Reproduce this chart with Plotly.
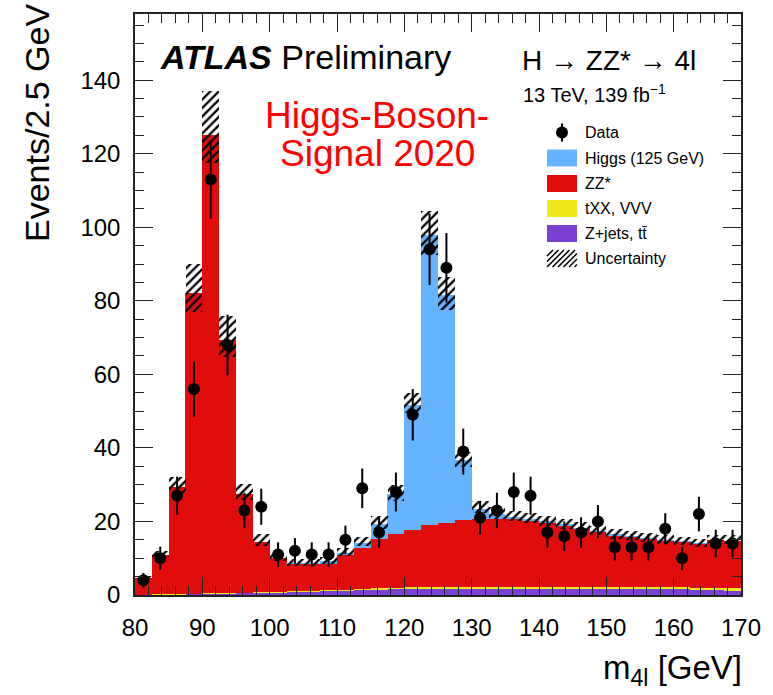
import numpy as np
import plotly.graph_objects as go

# ---------------- data ----------------
bin_centers = [81.25, 83.75, 86.25, 88.75, 91.25, 93.75, 96.25, 98.75, 101.25, 103.75,
               106.25, 108.75, 111.25, 113.75, 116.25, 118.75, 121.25, 123.75, 126.25, 128.75,
               131.25, 133.75, 136.25, 138.75, 141.25, 143.75, 146.25, 148.75, 151.25, 153.75,
               156.25, 158.75, 161.25, 163.75, 166.25, 168.75]

data_counts = [4, 10, 27, 56, 113, 68, 23, 24, 11, 12,
               11, 11, 15, 29, 17, 28, 49, 94, 89, 39,
               21, 23, 28, 27, 17, 16, 17, 20, 13, 13,
               13, 18, 10, 22, 14, 14]

zjets_tt = [0.1, 0.15, 0.2, 0.3, 0.4, 0.5, 0.6, 0.7, 0.8, 0.9,
            1.0, 1.1, 1.2, 1.4, 1.6, 1.7, 1.8, 1.8, 1.8, 1.8,
            1.8, 1.8, 1.8, 1.8, 1.7, 1.7, 1.7, 1.6, 1.6, 1.6,
            1.5, 1.5, 1.5, 1.4, 1.3, 1.2]

txx_vvv = [0.02, 0.03, 0.04, 0.05, 0.06, 0.07, 0.08, 0.09, 0.1, 0.12,
           0.14, 0.16, 0.18, 0.2, 0.22, 0.25, 0.28, 0.3, 0.33, 0.36,
           0.4, 0.42, 0.45, 0.48, 0.5, 0.52, 0.55, 0.57, 0.58, 0.6,
           0.6, 0.62, 0.62, 0.63, 0.63, 0.64]

zz_star = [4.58, 10.82, 29.16, 81.65, 124.54, 68.73, 26.92, 13.71, 9.1, 7.58,
           7.36, 7.44, 9.52, 11.1, 13.28, 14.65, 15.62, 16.9, 17.47, 18.24,
           18.4, 18.58, 18.35, 18.02, 17.6, 16.78, 15.85, 15.03, 14.12, 13.7,
           13.3, 12.78, 12.38, 11.97, 13.07, 12.96]

higgs_125 = [0, 0, 0, 0, 0, 0, 0, 0, 0, 0.1,
             0.2, 0.5, 0.6, 1.5, 4.2, 10.8, 33.9, 79.0, 61.9, 16.3,
             2.9, 1.2, 0.6, 0.3, 0.2, 0.1, 0.1, 0.05, 0.03, 0.02,
             0.02, 0.01, 0.01, 0.01, 0.0, 0.0]

unc_up = [0.5, 1.0, 2.8, 8.0, 12.0, 6.5, 2.6, 2.0, 1.2, 1.0,
          1.0, 1.0, 1.2, 1.5, 2.2, 2.6, 3.4, 6.3, 5.0, 2.3,
          2.0, 1.8, 1.7, 1.7, 1.6, 1.6, 1.6, 1.5, 1.5, 1.5,
          1.4, 1.4, 1.4, 1.3, 1.4, 1.4]

unc_dn = [0.4, 0.8, 2.0, 5.0, 7.5, 4.5, 1.8, 1.2, 0.8, 0.7,
          0.7, 0.7, 0.8, 1.0, 1.4, 1.8, 2.2, 5.5, 4.0, 2.0,
          1.3, 1.2, 1.1, 1.1, 1.1, 1.1, 1.0, 1.0, 1.0, 1.0,
          1.0, 1.0, 0.9, 0.9, 0.9, 0.9]

x_ticks = [80, 90, 100, 110, 120, 130, 140, 150, 160, 170]
y_ticks = [0, 20, 40, 60, 80, 100, 120, 140]

# ---------------- colours ----------------
C_HIGGS = "#66b3ff"
C_ZZ = "#e10d0d"
C_TXX = "#eee817"
C_ZJ = "#7a40d1"

# ---------------- geometry helpers (layout only) ----------------
W, H = 773, 695
L, R, T, B = 135, 32, 14, 100
PW, PH = W - L - R, H - T - B


def px(xpix):
    return (xpix - L) / PW


def py(ypix):
    return (H - B - ypix) / PH


FONT = "Liberation Sans, Arial, Helvetica, sans-serif"

zj = np.array(zjets_tt)
tx = np.array(txx_vvv)
zz = np.array(zz_star)
hg = np.array(higgs_125)
base_tx = zj
base_zz = zj + tx
base_hg = zj + tx + zz
total = base_hg + hg
up = np.array(unc_up)
dn = np.array(unc_dn)
data = np.array(data_counts)

fig = go.Figure()
bw = 2.52

fig.add_trace(go.Bar(x=bin_centers, y=zj, base=0, width=bw, marker=dict(color=C_ZJ, line=dict(width=0)),
                     name="Z+jets, tt̄", showlegend=False))
fig.add_trace(go.Bar(x=bin_centers, y=tx, base=base_tx, width=bw, marker=dict(color=C_TXX, line=dict(width=0)),
                     name="tXX, VVV", showlegend=False))
fig.add_trace(go.Bar(x=bin_centers, y=zz, base=base_zz, width=bw, marker=dict(color=C_ZZ, line=dict(width=0)),
                     name="ZZ*", showlegend=False))
fig.add_trace(go.Bar(x=bin_centers, y=hg, base=base_hg, width=bw, marker=dict(color=C_HIGGS, line=dict(width=0)),
                     name="Higgs (125 GeV)", showlegend=False))
fig.add_trace(go.Bar(x=bin_centers, y=up + dn, base=total - dn, width=2.5,
                     marker=dict(color="rgba(0,0,0,0)", line=dict(width=0),
                                 pattern=dict(shape="/", fgcolor="black", bgcolor="rgba(0,0,0,0)",
                                              fgopacity=1, size=6, solidity=0.38, fillmode="overlay")),
                     name="Uncertainty", showlegend=False))
fig.add_trace(go.Scatter(x=bin_centers, y=data, mode="markers",
                         marker=dict(color="black", size=12),
                         error_y=dict(type="data", array=np.sqrt(data), thickness=2, width=0, color="black"),
                         name="Data", showlegend=False, cliponaxis=False))

axis_common = dict(showgrid=False, zeroline=False, showline=True, linecolor="#222", linewidth=1.5,
                   mirror="allticks", ticks="inside", ticklen=18, tickwidth=1.3, tickcolor="#222",
                   tickfont=dict(family=FONT, size=24, color="black"))

fig.update_xaxes(range=[80, 170], tickvals=x_ticks, ticktext=[str(v) for v in x_ticks],
                 minor=dict(dtick=2, ticklen=9, ticks="inside", tickwidth=1.3, tickcolor="#222"),
                 ticklabelstandoff=10, **axis_common)
fig.update_yaxes(range=[0, 158], tickvals=y_ticks, ticktext=[str(v) for v in y_ticks],
                 minor=dict(dtick=5, ticklen=9, ticks="inside", tickwidth=1.3, tickcolor="#222"),
                 ticklabelstandoff=8, **axis_common)

ann = []
# axis titles
ann.append(dict(text="Events/2.5 GeV", textangle=-90, xref="paper", yref="paper",
                x=px(37), y=py(2), xanchor="center", yanchor="top", showarrow=False,
                font=dict(family=FONT, size=34, color="black")))
ann.append(dict(text="m<sub>4l</sub> [GeV]", xref="paper", yref="paper",
                x=px(744), y=py(670), xanchor="right", yanchor="middle", showarrow=False,
                font=dict(family=FONT, size=33, color="black")))
# labels
ann.append(dict(text="<b><i>ATLAS</i></b> Preliminary", xref="paper", yref="paper",
                x=px(158), y=py(57), xanchor="left", yanchor="middle", showarrow=False,
                font=dict(family=FONT, size=34, color="black")))
ann.append(dict(text="H → ZZ* → 4l", xref="paper", yref="paper",
                x=px(520), y=py(60), xanchor="left", yanchor="middle", showarrow=False,
                font=dict(family=FONT, size=28, color="black")))
ann.append(dict(text="13 TeV, 139 fb<sup>−1</sup>", xref="paper", yref="paper",
                x=px(521), y=py(93), xanchor="left", yanchor="middle", showarrow=False,
                font=dict(family=FONT, size=20, color="black")))
ann.append(dict(text="Higgs-Boson-", xref="paper", yref="paper",
                x=px(377), y=py(115), xanchor="center", yanchor="middle", showarrow=False,
                font=dict(family=FONT, size=37, color="#ff0000")))
ann.append(dict(text="Signal 2020", xref="paper", yref="paper",
                x=px(377), y=py(153), xanchor="center", yanchor="middle", showarrow=False,
                font=dict(family=FONT, size=37, color="#ff0000")))

# manual legend
leg_items = [("Data", None, 132.5), ("Higgs (125 GeV)", C_HIGGS, 158), ("ZZ*", C_ZZ, 183.5),
             ("tXX, VVV", C_TXX, 208.5), ("Z+jets, tt̄", C_ZJ, 233.5), ("Uncertainty", "hatch", 258.5)]
shapes = []
bx0, bx1, bh = 547, 577, 17
for label, col, yc in leg_items:
    ann.append(dict(text=label, xref="paper", yref="paper", x=px(583), y=py(yc),
                    xanchor="left", yanchor="middle", showarrow=False,
                    font=dict(family=FONT, size=16, color="black")))
    if col is None:
        shapes.append(dict(type="line", xref="paper", yref="paper", x0=px(562), x1=px(562),
                           y0=py(yc - 9), y1=py(yc + 9), line=dict(color="black", width=2)))
        shapes.append(dict(type="circle", xref="paper", yref="paper", x0=px(556), x1=px(568),
                           y0=py(yc + 6), y1=py(yc - 6), fillcolor="black", line=dict(width=0)))
    elif col == "hatch":
        y_top, y_bot = yc - bh / 2, yc + bh / 2
        for k in range(-3, 7):
            xs = bx0 + k * 5.5
            x_a, y_a = xs, y_bot
            x_b, y_b = xs + bh, y_top
            if x_a < bx0:
                y_a = y_bot - (bx0 - x_a)
                x_a = bx0
            if x_b > bx1:
                y_b = y_top + (x_b - bx1)
                x_b = bx1
            if x_b - x_a > 1:
                shapes.append(dict(type="line", xref="paper", yref="paper", x0=px(x_a), y0=py(y_a),
                                   x1=px(x_b), y1=py(y_b), line=dict(color="black", width=1.5)))
    else:
        shapes.append(dict(type="rect", xref="paper", yref="paper", x0=px(bx0), x1=px(bx1),
                           y0=py(yc + bh / 2), y1=py(yc - bh / 2), fillcolor=col,
                           line=dict(width=0)))

fig.update_layout(width=W, height=H, margin=dict(l=L, r=R, t=T, b=B, pad=0),
                  paper_bgcolor="white", plot_bgcolor="white", barmode="overlay", bargap=0,
                  showlegend=False, annotations=ann, shapes=shapes,
                  font=dict(family=FONT, color="black"))

fig.write_html("out.html", config={"displayModeBar": False},
               post_script="document.body.style.margin='0';document.body.style.overflow='hidden';")
